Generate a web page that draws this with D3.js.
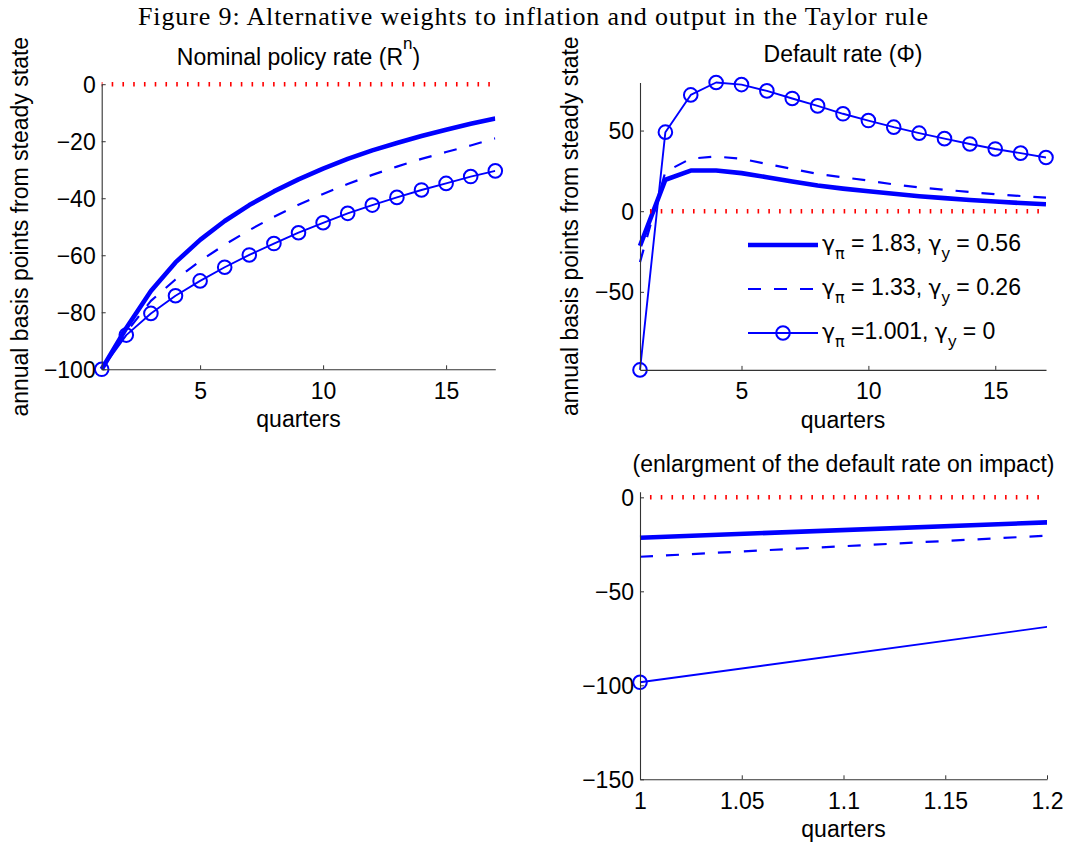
<!DOCTYPE html>
<html><head><meta charset="utf-8">
<script src="https://cdn.jsdelivr.net/npm/d3@7"></script>
<style>body{margin:0;background:#fff}svg{display:block}</style>
</head><body>
<svg id="chart" width="1065" height="845"></svg>
<script>
// ---------------- data ----------------
const quarters = [1,2,3,4,5,6,7,8,9,10,11,12,13,14,15,16,17];

const nominalRateStrong   = [-100,-85.5,-72.5,-62.5,-54.6,-48.0,-42.4,-37.6,-33.4,-29.6,-26.2,-23.2,-20.6,-18.2,-16.0,-13.9,-12.0];
const nominalRateModerate = [-100,-87.0,-76.0,-68.5,-62.0,-56.3,-51.2,-46.5,-42.3,-38.5,-35.0,-31.8,-28.9,-26.2,-23.8,-21.5,-19.0];
const nominalRateWeak     = [-100,-88.0,-80.4,-74.2,-69.0,-64.2,-59.9,-55.9,-52.1,-48.6,-45.3,-42.4,-39.7,-37.1,-34.8,-32.4,-30.4];

const defaultRateStrong   = [-21.5,19.5,25.2,25.2,23.6,21.1,18.4,15.9,14.0,12.4,10.8,9.3,8.1,6.9,6.0,5.1,4.3];
const defaultRateModerate = [-31.6,24.4,32.6,33.9,32.5,29.3,26.2,23.1,21.0,19.0,16.6,14.8,13.3,11.9,10.5,9.4,8.4];
const defaultRateWeak     = [-98.4,49.0,72.1,79.8,78.5,74.6,69.9,65.3,60.4,56.2,52.1,48.4,45.0,41.7,38.6,36.0,33.3];

const quarterTicks = [5,10,15];
const quarterTickLabels = ["5","10","15"];
const nominalYTicks = [0,-20,-40,-60,-80,-100];
const nominalYTickLabels = ["0","\u221220","\u221240","\u221260","\u221280","\u2212100"];
const defaultYTicks = [50,0,-50];
const defaultYTickLabels = ["50","0","\u221250"];
const zoomXTicks = [1,1.05,1.1,1.15,1.2];
const zoomXTickLabels = ["1","1.05","1.1","1.15","1.2"];
const zoomYTicks = [0,-50,-100,-150];
const zoomYTickLabels = ["0","\u221250","\u2212100","\u2212150"];

// legend pieces
const legendPi = [" = 1.83, ", " = 1.33, ", " =1.001, "];
const legendY  = [" = 0.56", " = 0.26", " = 0"];

// ---------------- styles ----------------
const FONT = "'Liberation Sans', Arial, Helvetica, sans-serif";
const GREEK = "'DejaVu Sans', sans-serif";
const FS = 23;
const BLUE = "#0000ff";
const styles = [
  {width: 4.6, dash: null, marker: false},
  {width: 2.2, dash: "13,13", marker: false},
  {width: 1.9, dash: null, marker: true}
];
const MR = 6.8;

const svg = d3.select("#chart");
const defs = svg.append("defs");

function drawPanel(o) {
  const x = d3.scaleLinear().domain(o.xDomain).range([o.left, o.right]);
  const y = d3.scaleLinear().domain(o.yDomain).range([o.bottom, o.top]);
  const g = svg.append("g");

  defs.append("clipPath").attr("id", o.id + "clip")
    .append("rect").attr("x", o.left - 40).attr("y", 0)
    .attr("width", o.right - o.left + 40).attr("height", 845);

  const plot = g.append("g").attr("clip-path", `url(#${o.id}clip)`);
  const line = d3.line().x((d, i) => x(quarters[i])).y(d => y(d));

  o.series.forEach((vals, k) => {
    const st = styles[k];
    plot.append("path").datum(vals).attr("d", line)
      .attr("fill", "none").attr("stroke", BLUE)
      .attr("stroke-width", st.width)
      .attr("stroke-dasharray", st.dash)
      .attr("stroke-linejoin", "round");
  });
  o.series.forEach((vals, k) => {
    const st = styles[k];
    if (!st.marker) return;
    const pts = vals.map((v, i) => [quarters[i], v])
      .filter(p => p[0] >= o.xDomain[0] && p[0] <= o.xDomain[1]);
    g.selectAll(null).data(pts).enter().append("circle")
      .attr("cx", p => x(p[0])).attr("cy", p => y(p[1]))
      .attr("r", MR).attr("fill", "none")
      .attr("stroke", BLUE).attr("stroke-width", 2);
  });

  // zero reference line (red dotted)
  g.append("line")
    .attr("x1", x(o.xDomain[0])).attr("x2", x(o.zeroEnd))
    .attr("y1", y(0)).attr("y2", y(0))
    .attr("stroke", "#ff0000").attr("stroke-width", 4.5)
    .attr("stroke-dasharray", "1.6,9.16").attr("stroke-dashoffset", 0.8);

  // axes
  const xAxis = d3.axisBottom(x).tickValues(o.xTicks)
    .tickFormat((d, i) => o.xTickLabels[i])
    .tickSizeInner(-4).tickSizeOuter(0).tickPadding(13);
  const yAxis = d3.axisLeft(y).tickValues(o.yTicks)
    .tickFormat((d, i) => o.yTickLabels[i])
    .tickSizeInner(-4).tickSizeOuter(0).tickPadding(6);

  const gx = g.append("g").attr("transform", `translate(0,${o.bottom})`).call(xAxis);
  const gy = g.append("g").attr("transform", `translate(${o.left},0)`).call(yAxis);
  [gx, gy].forEach(a => {
    a.attr("font-family", null).attr("font-size", null);
    a.select(".domain").attr("stroke", "#333").attr("stroke-width", 1.1);
    a.selectAll(".tick line").attr("stroke", "#333").attr("stroke-width", 1);
    a.selectAll(".tick text").attr("fill", "#000")
      .style("font-family", FONT).style("font-size", FS + "px");
  });
  gy.selectAll(".tick text").attr("dy", "0.34em");

  // x label
  g.append("text").attr("x", (o.left + o.right) / 2).attr("y", o.bottom + 58)
    .attr("text-anchor", "middle").style("font-family", FONT).style("font-size", FS + "px")
    .text("quarters");

  // y label
  if (o.ylabelX) {
    g.append("text")
      .attr("transform", `translate(${o.ylabelX},${(o.top + o.bottom) / 2}) rotate(-90)`)
      .attr("text-anchor", "middle").style("font-family", FONT).style("font-size", FS + "px")
      .text("annual basis points from steady state");
  }

  // title
  const t = g.append("text").attr("x", (o.left + o.right) / 2).attr("y", o.titleY)
    .attr("text-anchor", "middle").style("font-family", FONT).style("font-size", FS + "px");
  o.title(t);
  return {x, y};
}

// Panel 1: nominal policy rate
drawPanel({
  id: "p1", left: 101.7, right: 495.3, top: 84.2, bottom: 369.3,
  xDomain: [1, 17], yDomain: [-100, 0], zeroEnd: 17,
  series: [nominalRateStrong, nominalRateModerate, nominalRateWeak],
  xTicks: quarterTicks, xTickLabels: quarterTickLabels,
  yTicks: nominalYTicks, yTickLabels: nominalYTickLabels,
  ylabelX: 28, titleY: 64.5,
  title: t => {
    t.append("tspan").text("Nominal policy rate (R");
    t.append("tspan").attr("dy", -16).style("font-size", "17px").text("n");
    t.append("tspan").attr("dy", 16).text(")");
  }
});

// Panel 2: default rate (tight y limits)
const allDefault = defaultRateStrong.concat(defaultRateModerate, defaultRateWeak);
drawPanel({
  id: "p2", left: 640, right: 1046, top: 82.5, bottom: 369.9,
  xDomain: [1, 17], yDomain: d3.extent(allDefault), zeroEnd: 17,
  series: [defaultRateStrong, defaultRateModerate, defaultRateWeak],
  xTicks: quarterTicks, xTickLabels: quarterTickLabels,
  yTicks: defaultYTicks, yTickLabels: defaultYTickLabels,
  ylabelX: 578, titleY: 62,
  title: t => t.text("Default rate (\u03A6)")
});

// Panel 3: enlargement of default rate on impact
drawPanel({
  id: "p3", left: 640, right: 1047, top: 491.7, bottom: 779.3,
  xDomain: [1, 1.2], yDomain: [-150, 3], zeroEnd: 1.2,
  series: [defaultRateStrong, defaultRateModerate, defaultRateWeak],
  xTicks: zoomXTicks, xTickLabels: zoomXTickLabels,
  yTicks: zoomYTicks, yTickLabels: zoomYTickLabels,
  ylabelX: null, titleY: 472,
  title: t => t.text("(enlargment of the default rate on impact)")
});

// Legend (inside panel 2)
const legend = svg.append("g");
const lx0 = 748, lx1 = 818, rows = [245, 289, 333];
rows.forEach((ry, k) => {
  const st = styles[k];
  legend.append("line").attr("x1", lx0).attr("x2", lx1).attr("y1", ry).attr("y2", ry)
    .attr("stroke", BLUE).attr("stroke-width", st.width).attr("stroke-dasharray", st.dash);
  if (st.marker) {
    legend.append("circle").attr("cx", (lx0 + lx1) / 2).attr("cy", ry).attr("r", MR)
      .attr("fill", "none").attr("stroke", BLUE).attr("stroke-width", 2);
  }
  const t = legend.append("text").attr("x", lx1 + 4).attr("y", ry + 6)
    .style("font-family", FONT).style("font-size", FS + "px");
  t.append("tspan").style("font-family", GREEK).style("font-size", "22px").text("\u03B3");
  t.append("tspan").attr("dy", 8).style("font-family", GREEK).style("font-size", "16px").text("\u03C0");
  t.append("tspan").attr("dy", -8).text(legendPi[k]);
  t.append("tspan").style("font-family", GREEK).style("font-size", "22px").text("\u03B3");
  t.append("tspan").attr("dy", 8).style("font-size", "17px").text("y");
  t.append("tspan").attr("dy", -8).text(legendY[k]);
});

// Figure title
svg.append("text").attr("x", 533).attr("y", 25).attr("text-anchor", "middle")
  .style("font-family", "'Liberation Serif', 'Times New Roman', serif").style("font-size", "26px")
  .attr("textLength", 790).attr("lengthAdjust", "spacing")
  .text("Figure 9: Alternative weights to inflation and output in the Taylor rule");
</script>
</body></html>
